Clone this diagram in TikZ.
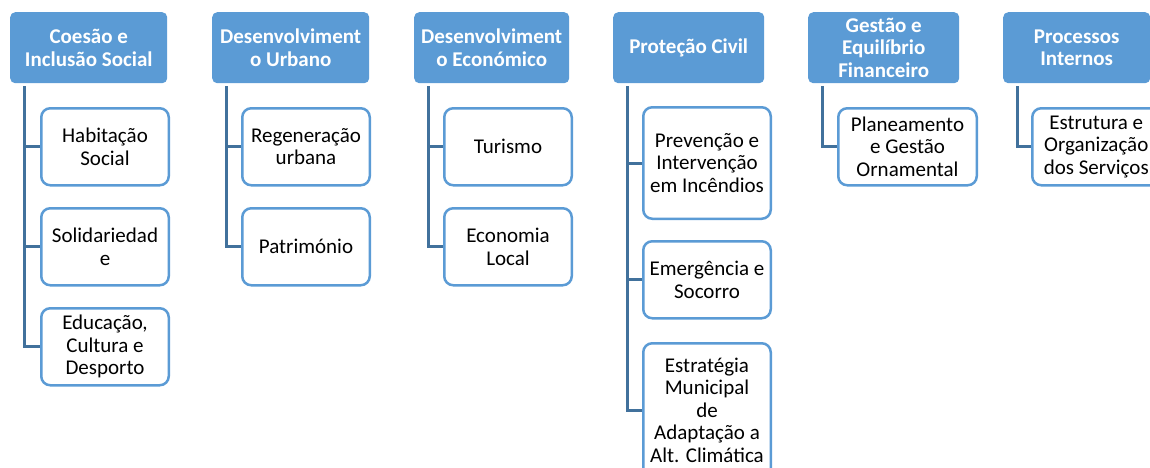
\documentclass[tikz,border=0pt]{standalone}
\usepackage{fontspec}
\setmainfont{Carlito}
\definecolor{headblue}{HTML}{5B9BD5}
\definecolor{linkblue}{HTML}{41719C}
\tikzset{
  head/.style={anchor=north west, fill=headblue, rounded corners=5pt, text=white,
    font=\bfseries\fontsize{21}{22.5}\selectfont, align=center,
    minimum width=157pt, minimum height=71pt, inner sep=0pt},
  item/.style={anchor=north west, draw=headblue, line width=2.5pt, fill=white,
    rounded corners=9pt, font=\fontsize{21}{22.5}\selectfont, align=center,
    minimum width=127.5pt, minimum height=77pt, inner sep=0pt},
  link/.style={draw=linkblue, line width=3pt},
}
\begin{document}
\begin{tikzpicture}[x=1pt, y=-1pt]
        \useasboundingbox (0,0) rectangle (1150,467);
        \clip (0,0) rectangle (1150,467);

        % headers
        \node[head] (h1) at (10,12) {Coesão e\\Inclusão Social};
        \node[head] (h2) at (212,12) {Desenvolviment\\o Urbano};
        \node[head, minimum width=155pt] (h3) at (414,12) {Desenvolviment\\o Económico};
        \node[head, minimum width=151pt] (h4) at (613,12) {Proteção Civil};
        \node[head, minimum width=151pt] (h5) at (808,12) {Gestão e\\Equilíbrio\\Financeiro};
        \node[head, minimum width=147pt] (h6) at (1003,12) {Processos\\Internos};

        % children
        \node[item] (c1a) at (40,107) {Habitação\\Social};
        \node[item] (c1b) at (40,207) {Solidariedad\\e};
        \node[item] (c1c) at (40,307) {Educação,\\Cultura e\\Desporto};

        \node[item] (c2a) at (241,107) {Regeneração\\urbana};
        \node[item] (c2b) at (241,207) {Património};

        \node[item] (c3a) at (443,107) {Turismo};
        \node[item] (c3b) at (443,207) {Economia\\Local};

        \node[item, minimum height=111.5pt] (c4a) at (642,106) {Prevenção e\\Intervenção\\em Incêndios};
        \node[item] (c4b) at (642,240) {Emergência e\\Socorro};
        \node[item, minimum height=134pt] (c4c) at (642,342) {Estratégia\\Municipal\\de\\Adaptação a\\Alt. Climática};

        \node[item, minimum width=138.5pt] (c5a) at (837,107) {Planeamento\\e Gestão\\Ornamental};

        \node[item, minimum width=128pt] (c6a) at (1031,107) {Estrutura e\\Organização\\dos Serviços};

        % connectors
        \foreach \h/\c in {h1/c1a, h1/c1b, h1/c1c, h2/c2a, h2/c2b, h3/c3a, h3/c3b,
                           h4/c4a, h4/c4b, h4/c4c, h5/c5a, h6/c6a}
          \draw[link] ([xshift=14pt, yshift=-3pt]\h.south west) |- (\c.west);
    \end{tikzpicture}
\end{document}
